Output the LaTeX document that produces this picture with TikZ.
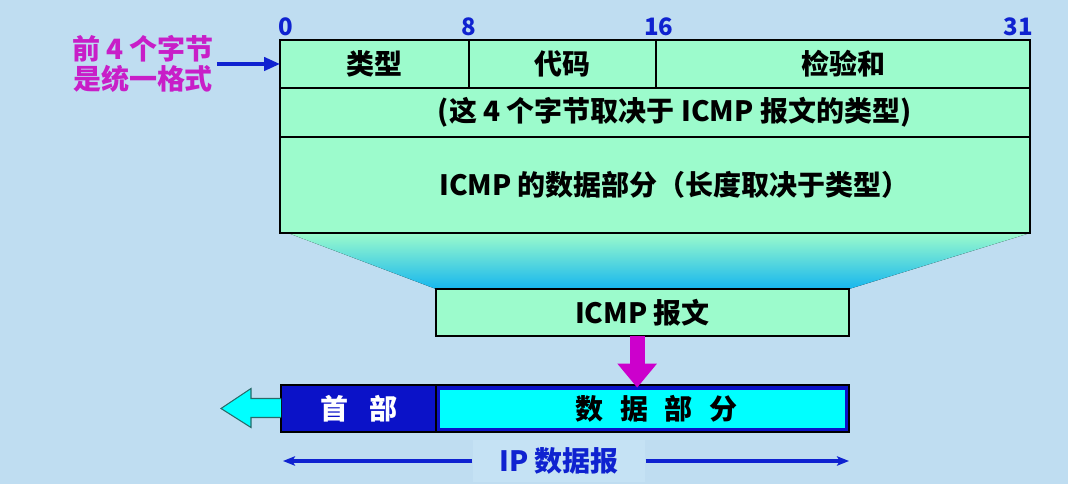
\documentclass[tikz,border=0pt]{standalone}
\usepackage{fontspec}
\setmainfont{Noto Sans CJK SC}
\usepackage{tikz}
\usetikzlibrary{arrows.meta,positioning,calc,backgrounds}
\definecolor{bgblue}{HTML}{BFDDF1}
\definecolor{labelbg}{HTML}{C5E2F4}
\definecolor{fieldgreen}{HTML}{9CFBCC}
\definecolor{funnelblue}{HTML}{16B6EE}
\definecolor{notemag}{HTML}{C81EC8}
\definecolor{downmag}{HTML}{CC00CC}
\definecolor{bitblue}{HTML}{0F22D0}
\definecolor{hdrblue}{HTML}{0B12C8}
\definecolor{datacyan}{HTML}{00FFFF}
\definecolor{arrowedge}{HTML}{2A6A6A}
\newcommand{\px}{0.75pt}
\newcommand{\gap}{\hspace{0.6em}}

\begin{document}
\begin{tikzpicture}[x=0.75pt,y=-0.75pt,
  big/.style={font=\bfseries\fontsize{21}{22}\selectfont},
  field/.style={big,draw,line width=1.3pt,fill=fieldgreen,inner sep=0pt,outer sep=0pt},
  bit/.style={font=\bfseries\fontsize{18}{18}\selectfont,text=bitblue,anchor=south,inner sep=1pt},
  notearrow/.style={bitblue,line width=2.6pt,-{Triangle[width=10pt,length=12pt]}},
  dimarrow/.style={bitblue,line width=2.4pt,-{Stealth[length=9pt,width=7pt,inset=2pt]}}]
\useasboundingbox (0,0) rectangle (1068,484);
% header fields of the ICMP message
\node[field,minimum width=189*\px,minimum height=48*\px,anchor=north west] (type) at (280,40) {类型};
\node[field,minimum width=187*\px,minimum height=48*\px,right=0pt of type] (code) {代码};
\node[field,minimum width=374*\px,minimum height=48*\px,right=0pt of code] (chk) {检验和};
\node[field,minimum width=750*\px,minimum height=49*\px,below=0pt of type.south west,anchor=north west] (rest) {\hspace{1.4em}(这 4 个字节取决于 ICMP 报文的类型)};
\node[field,minimum width=750*\px,minimum height=96*\px,below=0pt of rest.south west,anchor=north west] (body) {\hspace{1.4em}ICMP 的数据部分（长度取决于类型）};
\node[bit] (b0) at ([xshift=4pt,yshift=2pt]type.north west) {0};
\node[bit] (b8) at ([yshift=2pt]code.north west) {8};
\node[bit] (b16) at ([xshift=2pt,yshift=2pt]chk.north west) {16};
\node[bit] (b31) at ([xshift=-9pt,yshift=2pt]chk.north east) {31};
\node[big,text=notemag,align=center,inner sep=2pt] (note) at (143,64) {前 4 个字节\\是统一格式};
\draw[notearrow] (note.east |- type.west) -- (type.west);
% ICMP message and IP datagram
\node[field,minimum width=413*\px,minimum height=47*\px,anchor=north west] (icmp) at (436,289) {ICMP 报文};
\node[big,text=white,draw,line width=1pt,fill=hdrblue,minimum width=155*\px,minimum height=47*\px,inner sep=0pt,outer sep=0pt,anchor=north west] (hdr) at (281,385) {首\hspace{0.75em}部};
\node[big,draw,line width=1pt,fill=hdrblue,minimum width=413*\px,minimum height=47*\px,inner sep=0pt,outer sep=0pt,right=0pt of hdr,
  path picture={\fill[datacyan] ([shift={(4,5)}]path picture bounding box.north west) rectangle ([shift={(-4,-4)}]path picture bounding box.south east);}] (data) {\hspace{1em}数\gap 据\gap 部\gap 分};
\draw[downmag,line width=11pt,-{Triangle[width=28.5pt,length=18pt]}] ([xshift=-4pt]icmp.south) -- ([xshift=-4pt,yshift=-2pt]data.north);
\begin{scope}[shift={(hdr.west)}]
\draw[arrowedge,fill=datacyan,line width=0.8pt] (0,-10) -- (-30,-10) -- (-30,-20) -- (-60,0) -- (-30,19) -- (-30,9) -- (0,9);
\end{scope}
\coordinate (ipl) at (283,461);
\coordinate (ipr) at (849,461);
\node[big,text=bitblue,fill=labelbg,inner xsep=20pt,minimum height=42*\px] (iplabel) at (559,461) {IP 数据报};
\draw[dimarrow] (iplabel) -- (ipl);
\draw[dimarrow] (iplabel) -- (ipr);
\begin{scope}[on background layer]
\fill[bgblue] (0,0) rectangle (1068,484);
\fill[top color=fieldgreen,bottom color=funnelblue] ($(body.south west)+(8,0)$) -- (body.south east) -- (icmp.north east) -- (icmp.north west) -- cycle;
\end{scope}
\end{tikzpicture}
\end{document}
